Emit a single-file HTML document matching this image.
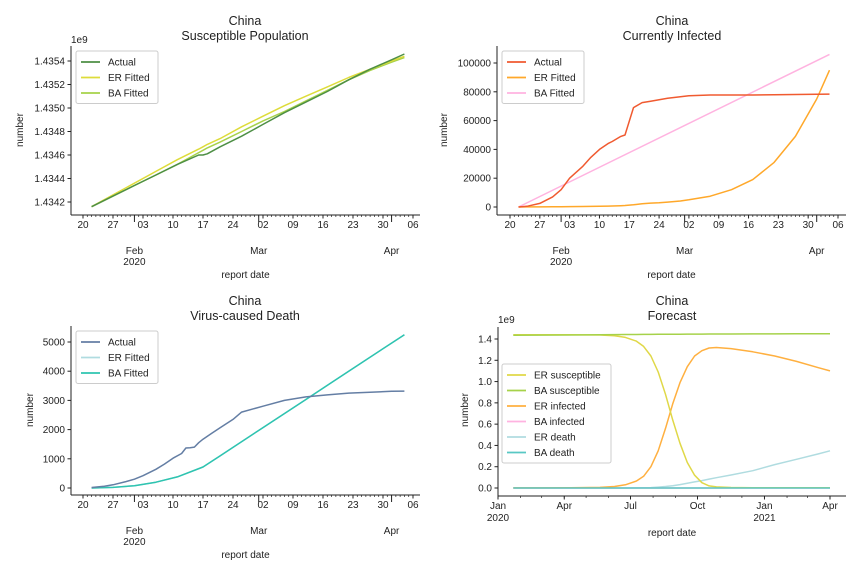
<!DOCTYPE html>
<html><head><meta charset="utf-8">
<style>
body{margin:0;background:#fff;}
svg{display:block;font-family:"Liberation Sans","DejaVu Sans",sans-serif;}
text{fill:#222;}
</style></head>
<body>
<svg id="chart" width="864" height="576" viewBox="0 0 864 576"></svg>
<script>
// ---- data (days offset from 2020-01-22) ----
const suscDays=[0,5,10,15,20,25,26,27,30,35,40,45,50,55,60,65,70,73];
const suscActual=[1.43416,1.43425,1.43434,1.43443,1.43452,1.43460,1.43460,1.43461,1.43467,1.43476,1.43486,1.43496,1.43505,1.43514,1.43524,1.43533,1.43541,1.43546];
const suscER=[1.43416,1.43426,1.43436,1.43446,1.43456,1.43465,1.43467,1.43469,1.43474,1.43484,1.43493,1.43502,1.43510,1.43518,1.43526,1.43533,1.43540,1.43544];
const suscBA=[1.43416,1.43425,1.43434,1.43443,1.43452,1.43462,1.43464,1.43466,1.43471,1.43480,1.43489,1.43497,1.43506,1.43515,1.43524,1.43532,1.43539,1.43543];
const infDays=[0,2,5,8,10,12,15,17,19,21,22,24,25,27,29,31,33,35,38,40,45,50,55,60,65,70,73];
const infActual=[0,500,2500,7000,12000,20000,28000,34500,40000,44000,45500,49000,50000,69000,72500,73500,74500,75500,76500,77200,77800,77800,77800,77900,78100,78300,78400];
const infER=[0,50,100,150,200,260,350,420,500,600,700,900,1050,1500,2200,2700,3000,3400,4200,5000,7500,12000,19000,31000,49000,75000,95000];
const infBADays=[0,73];
const infBA=[0,106000];
const deathDays=[0,3,5,8,10,12,15,17,19,21,22,23,24,25,26,28,30,33,35,40,45,50,55,60,65,70,73];
const deathActual=[17,60,110,220,300,420,640,820,1020,1180,1370,1380,1400,1550,1670,1870,2060,2350,2600,2800,3000,3120,3190,3250,3280,3310,3320];
const deathBADays=[0,5,10,15,20,26,30,40,50,60,73];
const deathBA=[0,20,80,200,380,720,1100,2070,3030,4000,5250];
const deathER=[0,20,80,200,380,720,1100,2070,3030,4000,5250];
// forecast: days offset from 2020-01-01 ; values in 1e9
const fcDays=[21,60,100,140,160,175,190,200,210,220,230,240,250,260,270,280,290,300,320,350,380,410,440,456];
const fcERsus=[1.44,1.44,1.44,1.438,1.43,1.415,1.38,1.33,1.24,1.09,0.88,0.64,0.42,0.24,0.12,0.05,0.02,0.01,0.005,0.003,0.003,0.003,0.003,0.003];
const fcBAsus=[1.436,1.437,1.438,1.44,1.441,1.442,1.442,1.443,1.443,1.444,1.444,1.445,1.445,1.446,1.446,1.446,1.447,1.447,1.447,1.448,1.448,1.449,1.449,1.45];
const fcERinf=[0.001,0.001,0.002,0.006,0.014,0.03,0.065,0.11,0.2,0.35,0.56,0.79,0.99,1.14,1.24,1.29,1.315,1.32,1.31,1.28,1.24,1.19,1.13,1.10];
const fcBAinf=[0,0,0,0,0,0,0,0,0,0,0,0,0,0,0,0,0,0,0,0,0,0,0,0];
const fcERdeath=[0,0,0,0,0,0,0.001,0.002,0.004,0.008,0.014,0.022,0.032,0.044,0.057,0.07,0.084,0.097,0.122,0.163,0.22,0.27,0.32,0.35];
const fcBAdeath=[0,0,0,0,0,0,0,0,0,0,0,0,0,0,0,0,0,0,0,0,0,0,0,0];
const weekLabels=["20","27","03","10","17","24","02","09","16","23","30","06"];
const fcTickLabels=["Jan","Apr","Jul","Oct","Jan","Apr"];
const fcTickDays=[0,91,182,274,366,456];

const NS="http://www.w3.org/2000/svg";
const svg=document.getElementById('chart');
function el(tag,attrs,parent,txt){const e=document.createElementNS(NS,tag);for(const k in attrs)e.setAttribute(k,attrs[k]);if(txt!==undefined)e.textContent=txt;(parent||svg).appendChild(e);return e;}
function lin(d0,d1,r0,r1){return v=>r0+(v-d0)*(r1-r0)/(d1-d0);}
function line(g,xs,ys,X,Y,color,name,w){
  const p=xs.map((x,i)=>X(x).toFixed(1)+','+Y(ys[i]).toFixed(1)).join(' ');
  const e=el('polyline',{points:p,fill:'none',stroke:color,'stroke-width':w||1.5,'stroke-linejoin':'round'},g);
  
  
}
function axes(g,L,R,T,B){
  el('line',{x1:L,y1:T,x2:L,y2:B,stroke:'#222','stroke-width':1},g);
  el('line',{x1:L,y1:B,x2:R,y2:B,stroke:'#222','stroke-width':1},g);
}
function title(g,cx,y,t2){
  el('text',{x:cx,y:y,'text-anchor':'middle','font-size':12.5},g,'China');
  el('text',{x:cx,y:y+15,'text-anchor':'middle','font-size':12.5},g,t2);
}
function yticks(g,L,Y,vals,fmt){
  vals.forEach(v=>{const y=Y(v);el('line',{x1:L-3.5,y1:y,x2:L,y2:y,stroke:'#222'},g);
    el('text',{x:L-6,y:y+3.5,'text-anchor':'end','font-size':10},g,fmt(v));});
}
function dateAxis(g,L,R,B,X){
  for(let d=-2;d<=75;d++){const x=X(d);el('line',{x1:x,y1:B,x2:x,y2:B+2,stroke:'#222','stroke-width':0.7},g);}
  weekLabels.forEach((lb,i)=>{const x=X(-2+7*i);el('line',{x1:x,y1:B,x2:x,y2:B+3.5,stroke:'#222'},g);
    el('text',{x:x,y:B+13,'text-anchor':'middle','font-size':10},g,lb);});
  [[10,'Feb'],[39,'Mar'],[70,'Apr']].forEach(([d,lb])=>{const x=X(d);el('line',{x1:x,y1:B,x2:x,y2:B+7,stroke:'#222'},g);
    el('text',{x:x,y:B+39,'text-anchor':'middle','font-size':10},g,lb);});
  el('text',{x:X(10),y:B+50,'text-anchor':'middle','font-size':10},g,'2020');
  el('text',{x:(L+R)/2,y:B+63,'text-anchor':'middle','font-size':10},g,'report date');
}
function legend(g,x,y,w,items){
  const h=items.length*15.5+6;
  el('rect',{x:x,y:y,width:w,height:h,fill:'#fff',stroke:'#ccc',rx:2},g);
  items.forEach(([c,t],i)=>{const yy=y+11+i*15.5;
    const li=el('g',{},g);
    el('line',{x1:x+5,y1:yy,x2:x+24,y2:yy,stroke:c,'stroke-width':1.8},li);
    el('text',{x:x+32,y:yy+3.5,'font-size':10},li,t);});
}
function panel(name){const g=el('g',{});return g;}

// Panel 1
(function(){const g=panel('susceptible-panel');const L=71,R=420,T=46,B=215;
 const X=lin(-2,75,83,413),Y=lin(1.4342,1.4354,202,61);
 title(g,245,25,'Susceptible Population');axes(g,L,R,T,B);
 yticks(g,L,Y,[1.4342,1.4344,1.4346,1.4348,1.4350,1.4352,1.4354],v=>v.toFixed(4));
 el('text',{x:L,y:T-3,'font-size':10},g,'1e9');
 el('text',{transform:'translate(23,130) rotate(-90)','text-anchor':'middle','font-size':10},g,'number');
 dateAxis(g,L,R,B,X);
 line(g,suscDays,suscBA,X,Y,'#a6d24a','ba-fitted-line');
 line(g,suscDays,suscER,X,Y,'#dedc3a','er-fitted-line');
 line(g,suscDays,suscActual,X,Y,'#4e8f45','actual-line');
 legend(g,76,51,82,[['#4e8f45','Actual'],['#dedc3a','ER Fitted'],['#a6d24a','BA Fitted']]);
})();
// Panel 2
(function(){const g=panel('infected-panel');const L=497,R=846,T=46,B=215;
 const X=lin(-2,75,510,838),Y=lin(0,100000,207,63);
 title(g,672,25,'Currently Infected');axes(g,L,R,T,B);
 yticks(g,L,Y,[0,20000,40000,60000,80000,100000],v=>String(v));
 el('text',{transform:'translate(447,130) rotate(-90)','text-anchor':'middle','font-size':10},g,'number');
 dateAxis(g,L,R,B,X);
 line(g,infBADays,infBA,X,Y,'#ffb3e0','ba-fitted-line');
 line(g,infDays,infER,X,Y,'#ffa82a','er-fitted-line');
 line(g,infDays,infActual,X,Y,'#f05a30','actual-line');
 legend(g,502,51,82,[['#f05a30','Actual'],['#ffa82a','ER Fitted'],['#ffb3e0','BA Fitted']]);
})();
// Panel 3
(function(){const g=panel('death-panel');const L=71,R=420,T=326,B=495;
 const X=lin(-2,75,83,413),Y=lin(0,5000,488,342);
 title(g,245,305,'Virus-caused Death');axes(g,L,R,T,B);
 yticks(g,L,Y,[0,1000,2000,3000,4000,5000],v=>String(v));
 el('text',{transform:'translate(33,410) rotate(-90)','text-anchor':'middle','font-size':10},g,'number');
 dateAxis(g,L,R,B,X);
 line(g,deathBADays,deathER,X,Y,'#b0dce0','er-fitted-line');
 line(g,deathBADays,deathBA,X,Y,'#2ec4b0','ba-fitted-line');
 line(g,deathDays,deathActual,X,Y,'#647ea4','actual-line');
 legend(g,76,331,82,[['#647ea4','Actual'],['#b0dce0','ER Fitted'],['#2ec4b0','BA Fitted']]);
})();
// Panel 4
(function(){const g=panel('forecast-panel');const L=498,R=846,T=327,B=496;
 const X=lin(0,456,498,830),Y=lin(0,1.4,488,339);
 title(g,672,305,'Forecast');axes(g,L,R,T,B);
 yticks(g,L,Y,[0,0.2,0.4,0.6,0.8,1.0,1.2,1.4],v=>v.toFixed(1));
 el('text',{x:L,y:T-4,'font-size':10},g,'1e9');
 el('text',{transform:'translate(468,410) rotate(-90)','text-anchor':'middle','font-size':10},g,'number');
 const mdays=[0,31,60,91,121,152,182,213,244,274,305,335,366,397,425,456,486];
 mdays.forEach(d=>{const x=X(d);if(x<=R)el('line',{x1:x,y1:B,x2:x,y2:B+2,stroke:'#222','stroke-width':0.7},g);});
 fcTickDays.forEach((d,i)=>{const x=X(d);el('line',{x1:x,y1:B,x2:x,y2:B+3.5,stroke:'#222'},g);
   el('text',{x:x,y:B+13,'text-anchor':'middle','font-size':10},g,fcTickLabels[i]);});
 el('text',{x:X(0),y:B+25,'text-anchor':'middle','font-size':10},g,'2020');
 el('text',{x:X(366),y:B+25,'text-anchor':'middle','font-size':10},g,'2021');
 el('text',{x:672,y:B+40,'text-anchor':'middle','font-size':10},g,'report date');
 line(g,fcDays,fcERdeath,X,Y,'#b0dce0','er-death-line');
 line(g,fcDays,fcBAinf,X,Y,'#ffb3e0','ba-infected-line');
 line(g,fcDays,fcERinf,X,Y,'#ffb040','er-infected-line');
 line(g,fcDays,fcERsus,X,Y,'#e0d848','er-susceptible-line');
 line(g,fcDays,fcBAsus,X,Y,'#a6d24a','ba-susceptible-line');
 line(g,fcDays,fcBAdeath,X,Y,'#58c8c4','ba-death-line');
 legend(g,502,364,109,[['#e0d848','ER susceptible'],['#a6d24a','BA susceptible'],['#ffb040','ER infected'],['#ffb3e0','BA infected'],['#b0dce0','ER death'],['#58c8c4','BA death']]);
})();
</script>
</body></html>
